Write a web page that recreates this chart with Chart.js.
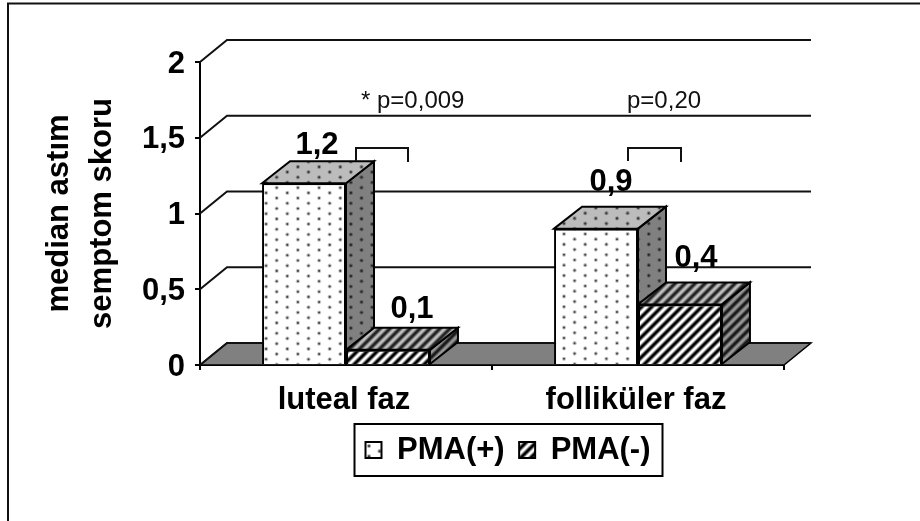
<!DOCTYPE html>
<html><head><meta charset="utf-8">
<style>html,body{margin:0;padding:0;background:#fff}canvas{display:block;filter:blur(.35px)}</style>
<script src="https://cdn.jsdelivr.net/npm/chart.js@4"></script>
</head><body>
<canvas id="c" width="920" height="521"></canvas>
<script>
const categories = ['luteal faz', 'folliküler faz'];
const seriesNames = ['PMA(+)', 'PMA(-)'];
const pmaPlus = [1.2, 0.9];
const pmaMinus = [0.1, 0.4];
const axisTitle = ['median astım', 'semptom skoru'];
const pValues = ['* p=0,009', 'p=0,20'];

const FONT = '"Liberation Sans", Arial, sans-serif';
const DX = 28, DY = 22;

function dotTile(bg, dot, halo, ax, ay) {
  const w = 212, h = 208, t = document.createElement('canvas');
  t.width = w; t.height = h;
  const g = t.getContext('2d');
  g.fillStyle = bg; g.fillRect(0, 0, w, h);
  const ox = ax % 21.2, oy = ay % 10.4;
  for (let i = -1; i < 11; i++) for (let j = -1; j < 21; j++) {
    [[ox, oy], [ox + 10.6, oy + 5.2]].forEach(([a, b]) => {
      const x = a + i * 21.2, y = b + j * 10.4;
      g.fillStyle = halo; g.beginPath(); g.arc(x, y, 2.1, 0, 7); g.fill();
      g.fillStyle = dot; g.beginPath(); g.arc(x, y, 1.05, 0, 7); g.fill();
    });
  }
  return g.createPattern(t, 'repeat');
}
function stripeTile(lo, hi) {
  const p = 10, t = document.createElement('canvas');
  t.width = t.height = p;
  const g = t.getContext('2d'), im = g.createImageData(p, p);
  for (let y = 0; y < p; y++) for (let x = 0; x < p; x++) {
    const s = Math.max(0, Math.min(1, 0.5 + 0.55 * Math.sin(2 * Math.PI * (x + y) / p)));
    const v = lo + (hi - lo) * s, k = 4 * (y * p + x);
    im.data[k] = im.data[k + 1] = im.data[k + 2] = v; im.data[k + 3] = 255;
  }
  g.putImageData(im, 0, 0);
  return g.createPattern(t, 'repeat');
}
const phases = [[276.7, 291.7], [564, 234]];
const stripe = { front: stripeTile(0, 255), top: stripeTile(35, 190), side: stripeTile(25, 150) };
const fills = [
  phases.map(([a, b]) => ({
    front: dotTile('#fff', '#444', '#c4c4c4', a, b),
    top: dotTile('#bcbcbc', '#333', '#8a8a8a', a, b),
    side: dotTile('#808080', '#222', '#5c5c5c', a, b)
  })),
  [stripe, stripe]
];
const legendDots = dotTile('#fff', '#333', '#aaa', 369, 446);

const fmt = v => String(v).replace('.', ',');
// label offset from the top-centre of each bar [dataset][category]
const labelNudge = [[[13, -29], [15, -38]], [[24, -32], [16, -37]]];

const stage = {
  id: 'stage',
  afterLayout(chart) {
    const l = chart.legend;
    l.left = 351; l.right = 720; l.top = 420; l.bottom = 481;
  },
  beforeDatasetsDraw(chart) {
    const { ctx, scales: { x, y } } = chart;
    const L = x.left, R = x.right, B = y.getPixelForValue(0);
    ctx.save();
    // frame
    ctx.strokeStyle = '#111'; ctx.lineWidth = 2;
    ctx.beginPath(); ctx.moveTo(8, 521); ctx.lineTo(8, 3.5); ctx.lineTo(920, 3.5); ctx.stroke();
    // floor
    ctx.fillStyle = '#808080'; ctx.strokeStyle = '#000';
    ctx.beginPath(); ctx.moveTo(L, B); ctx.lineTo(L + DX - 1, B - DY); ctx.lineTo(R + DX - 1, B - DY); ctx.lineTo(R, B); ctx.closePath();
    ctx.fill(); ctx.lineWidth = 1.5; ctx.stroke();
    // wall grid
    ctx.lineWidth = 2; ctx.strokeStyle = '#111';
    y.ticks.forEach(t => {
      const p = y.getPixelForValue(t.value);
      ctx.beginPath(); ctx.moveTo(L, p); ctx.lineTo(L + DX - 1, p - DY);
      ctx.lineTo(R + DX - 1, p - DY); ctx.stroke();
    });
    // depth faces of bars
    ctx.lineJoin = 'miter'; ctx.strokeStyle = '#000'; ctx.lineWidth = 2;
    chart.data.datasets.forEach((d, i) => {
      chart.getDatasetMeta(i).data.forEach((b, j) => {
        const l = b.x - b.width / 2, r = b.x + b.width / 2, t = b.y, z = b.base;
        ctx.fillStyle = fills[i][j].side;
        ctx.beginPath(); ctx.moveTo(r, t); ctx.lineTo(r + DX, t - DY); ctx.lineTo(r + DX, z - DY); ctx.lineTo(r, z); ctx.closePath();
        ctx.fill(); ctx.stroke();
        ctx.fillStyle = fills[i][j].top;
        ctx.beginPath(); ctx.moveTo(l, t); ctx.lineTo(l + DX, t - DY); ctx.lineTo(r + DX, t - DY); ctx.lineTo(r, t); ctx.closePath();
        ctx.fill(); ctx.stroke();
      });
    });
    ctx.restore();
  },
  afterDatasetsDraw(chart) {
    const { ctx } = chart;
    ctx.save();
    ctx.fillStyle = '#000';
    ctx.font = 'bold 31px ' + FONT; ctx.textAlign = 'center'; ctx.textBaseline = 'alphabetic';
    chart.data.datasets.forEach((d, i) => {
      chart.getDatasetMeta(i).data.forEach((b, j) => {
        ctx.fillText(fmt(d.data[j]), b.x + labelNudge[i][j][0], b.y + labelNudge[i][j][1]);
      });
    });
    ctx.font = '24px ' + FONT; ctx.textAlign = 'left'; ctx.fillStyle = '#111';
    ctx.fillText(pValues[0], 361, 108);
    ctx.fillText(pValues[1], 627, 108);
    ctx.strokeStyle = '#111'; ctx.lineWidth = 2;
    [[356, 408], [628, 681]].forEach(([a, b]) => {
      ctx.beginPath(); ctx.moveTo(a, 161); ctx.lineTo(a, 148); ctx.lineTo(b, 148); ctx.lineTo(b, 162); ctx.stroke();
    });
    // legend frame
    ctx.strokeStyle = '#000'; ctx.lineWidth = 2;
    ctx.strokeRect(354.5, 424, 308, 52);
    ctx.restore();
  }
};

new Chart(document.getElementById('c'), {
  type: 'bar',
  data: {
    labels: categories,
    datasets: [
      { label: seriesNames[0], data: pmaPlus, backgroundColor: fills[0].map(f => f.front), borderColor: '#000', borderWidth: 2 },
      { label: seriesNames[1], data: pmaMinus, backgroundColor: fills[1].map(f => f.front), borderColor: '#000', borderWidth: 2 }
    ]
  },
  plugins: [stage],
  options: {
    responsive: false,
    animation: false,
    devicePixelRatio: 1,
    layout: { padding: { left: 0, top: 62, right: 136, bottom: 56 } },
    datasets: { bar: { barPercentage: 1, categoryPercentage: 0.575 } },
    plugins: {
      tooltip: { enabled: false },
      title: { display: false },
      legend: {
        position: 'bottom', align: 'start', maxHeight: 40,
        labels: {
          boxWidth: 16, boxHeight: 16, padding: 14.5, color: '#000', font: { family: FONT, weight: 'bold', size: 31 },
          generateLabels: chart => seriesNames.map((n, i) => ({
            text: n, datasetIndex: i, lineWidth: 2, strokeStyle: '#000', fontColor: '#000',
            fillStyle: i === 0 ? legendDots : stripe.front
          }))
        }
      }
    },
    scales: {
      x: {
        afterFit: s => { s.height = 60; },
        grid: { offset: true, drawOnChartArea: false, color: '#000', lineWidth: 2, tickLength: 5 },
        border: { color: '#000', width: 2 },
        ticks: { color: '#000', padding: 12, labelOffset: -2, maxRotation: 0, autoSkip: false, font: { family: FONT, weight: 'bold', size: 31 } }
      },
      y: {
        min: 0, max: 2,
        afterFit: s => { s.width = 200; },
        grid: { drawOnChartArea: false, color: '#000', lineWidth: 2, tickLength: 5 },
        border: { color: '#000', width: 2 },
        ticks: { stepSize: 0.5, color: '#000', padding: 10, labelOffset: 2, callback: fmt, font: { family: FONT, weight: 'bold', size: 31 } },
        title: { display: true, text: axisTitle, color: '#000', padding: { top: 37.5, bottom: 0 }, font: { family: FONT, weight: 'bold', size: 31, lineHeight: 1.4 } }
      }
    }
  }
});
</script>
</body></html>
